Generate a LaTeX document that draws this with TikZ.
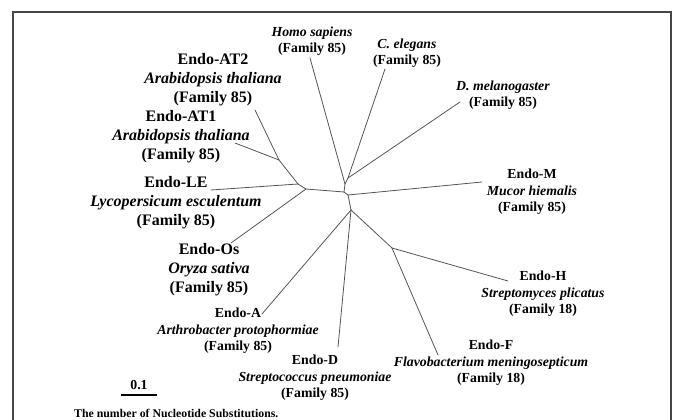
\documentclass[tikz,border=0pt]{standalone}
\usepackage{fontspec}
\setmainfont{Liberation Serif}
\usepackage{xcolor}
\usetikzlibrary{positioning}
\definecolor{branchgray}{RGB}{85,85,85}
\definecolor{framegray}{RGB}{70,70,70}

\begin{document}
\begin{tikzpicture}[
    x=1pt, y=-1pt,
    big/.style={font=\fontsize{16}{19}\selectfont\bfseries, align=center, inner sep=0pt},
    small/.style={font=\fontsize{13.8}{16.5}\selectfont\bfseries, align=center, inner sep=0pt},
    br/.style={draw=branchgray, line width=0.8pt, line cap=round}
  ]
  \useasboundingbox (0,0) rectangle (673,420);
  % Frame
  \draw[framegray, line width=1.2pt] (13,425) -- (13,12) -- (671,12) -- (671,425);

  % Inner nodes of the tree
  \coordinate (jat)  at (279,160);
  \coordinate (jle)  at (298,184);
  \coordinate (jos)  at (306,189);
  \coordinate (jcd)  at (348,178);
  \coordinate (jh)   at (345,184);
  \coordinate (jmid) at (344,192);
  \coordinate (jm)   at (348,195);
  \coordinate (jlow) at (351,210);
  \coordinate (jhf)  at (392,248);
  % Leaf ends
  \coordinate (eat2) at (255,110);
  \coordinate (eat1) at (235,143);
  \coordinate (ele)  at (211,190);
  \coordinate (eos)  at (231,243);
  \coordinate (ea)   at (262,314);
  \coordinate (ed)   at (338,347);
  \coordinate (ef)   at (438,355);
  \coordinate (eh)   at (508,281);
  \coordinate (em)   at (482,182);
  \coordinate (edm)  at (460,102);
  \coordinate (ece)  at (385,69);
  \coordinate (ehs)  at (310,58);

  % Branches
  \foreach \a/\b in {eat2/jat, eat1/jat, jat/jle, ele/jle, jle/jos, eos/jos,
                     jos/jmid, ehs/jh, ece/jcd, edm/jcd, jcd/jh, jh/jmid,
                     jmid/jm, em/jm, jm/jlow, jlow/ea, jlow/ed, jlow/jhf,
                     jhf/eh, jhf/ef}
    \draw[br] (\a) -- (\b);

  % Plant enzymes
  \node[big] (at2) at (213,80)  {Endo-AT2\\\textit{Arabidopsis thaliana}\\(Family 85)};
  \node[big] (at1) at (181,137) {Endo-AT1\\\textit{Arabidopsis thaliana}\\(Family 85)};
  \node[big] (le)  at (176,203) {Endo-LE\\\textit{Lycopersicum esculentum}\\(Family 85)};
  \node[big] (os)  at (209,270) {Endo-Os\\\textit{Oryza sativa}\\(Family 85)};
  % Animal enzymes
  \node[small] (hs) at (312,41) {\textit{Homo sapiens}\\(Family 85)};
  \node[small] (ce) at (407,53) {\textit{C. elegans}\\(Family 85)};
  \node[small] (dm) at (503,95) {\textit{D. melanogaster}\\(Family 85)};
  % Microbial enzymes
  \node[small] (mh) at (532,192) {Endo-M\\\textit{Mucor hiemalis}\\(Family 85)};
  \node[small] (sp) at (543,294) {Endo-H\\\textit{Streptomyces plicatus}\\(Family 18)};
  \node[small] (fm) at (491,363) {Endo-F\\\textit{Flavobacterium meningosepticum}\\(Family 18)};
  \node[small] (sn) at (315,378) {Endo-D\\\textit{Streptococcus pneumoniae}\\(Family 85)};
  \node[small] (ap) at (238,331) {Endo-A\\\textit{Arthrobacter protophormiae}\\(Family 85)};

  % Scale bar
  \node[small] (scale) at (139,385) {0.1};
  \coordinate (sbl) at (121,395);
  \coordinate (sbr) at (157,395);
  \draw[black, line width=1.4pt] (sbl) -- (sbr);
  \node[font=\fontsize{11.8}{13}\selectfont\bfseries, anchor=west, inner sep=0pt] (caption) at (74,413)
    {The number of Nucleotide Substitutions.};
\end{tikzpicture}
\end{document}
